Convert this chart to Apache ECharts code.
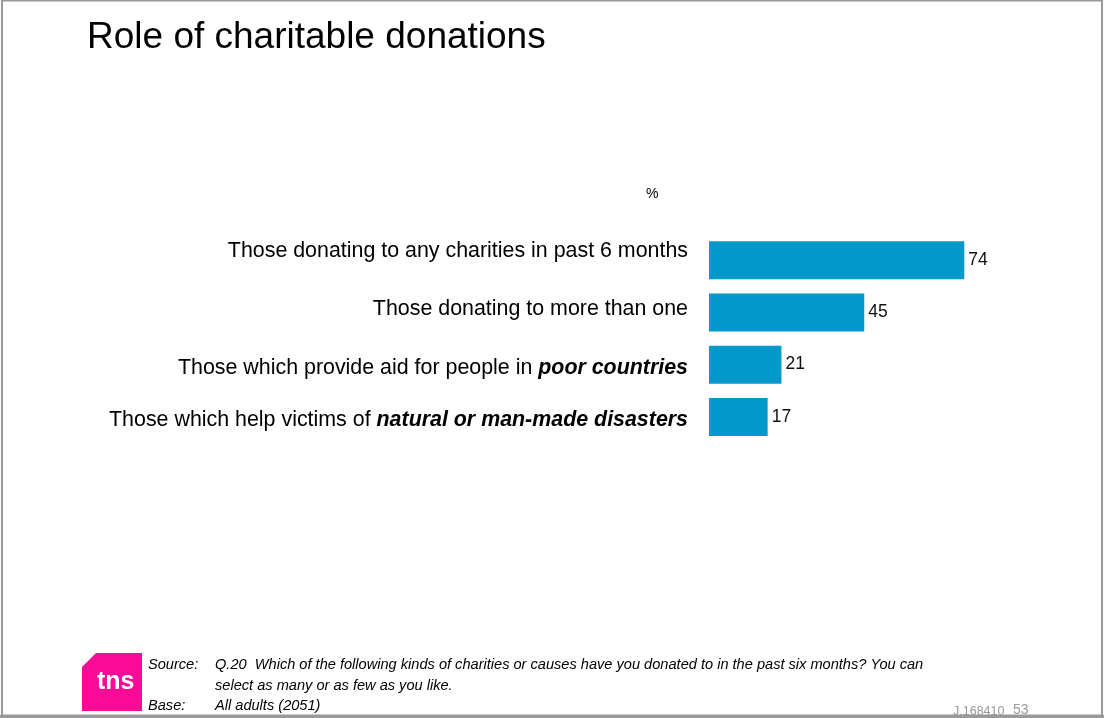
<!DOCTYPE html>
<html>
<head>
<meta charset="utf-8">
<title>Role of charitable donations</title>
<script src="https://cdn.jsdelivr.net/npm/echarts@6/dist/echarts.min.js"></script>
<style>
  html, body { margin: 0; padding: 0; background: #fff; }
  #chart { width: 1104px; height: 718px; }
</style>
</head>
<body>
<div id="chart"></div>
<script>
// Survey categories: plain lead-in text and the emphasised (bold italic) tail
const categoryText = [
  'Those donating to any charities in past 6 months',
  'Those donating to more than one',
  'Those which provide aid for people in ',
  'Those which help victims of '
];
const categoryEmphasis = ['', '', 'poor countries', 'natural or man-made disasters'];
// Share of adults, %
const shareValues = [74, 45, 21, 17];

const FONT = '"Liberation Sans", Arial, Helvetica, sans-serif';
const BAR = '#0599cb';
// vertical nudge (px, positive = down) for each category label
const labelShift = [-9, -3.5, 3.5, 3.5];

const rich = {
  n: { fontFamily: FONT, fontSize: 21.4, color: '#000', lineHeight: 24 },
  b: { fontFamily: FONT, fontSize: 21.4, color: '#000', fontWeight: 'bold', fontStyle: 'italic', lineHeight: 24 }
};
labelShift.forEach((s, i) => {
  rich['gap' + i] = { fontSize: 1, lineHeight: Math.abs(s) * 2 };
});

const chart = echarts.init(document.getElementById('chart'), null, { renderer: 'canvas' });

const option = {
  backgroundColor: '#ffffff',
  animation: false,
  grid: { left: 709, top: 234, height: 209, right: 50, containLabel: false },
  xAxis: {
    type: 'value', min: 0, max: 100,
    show: false
  },
  yAxis: {
    type: 'category',
    inverse: true,
    data: categoryText.map((t, i) => i),
    axisLine: { show: false },
    axisTick: { show: false },
    splitLine: { show: false },
    axisLabel: {
      margin: 21,
      align: 'right',
      formatter: (v, i) => {
        let s = '{n|' + categoryText[i] + '}';
        if (categoryEmphasis[i]) s += '{b|' + categoryEmphasis[i] + '}';
        const gap = '{gap' + i + '| }';
        if (labelShift[i] > 0) s = gap + '\n' + s;
        else if (labelShift[i] < 0) s = s + '\n' + gap;
        return s;
      },
      rich: rich
    }
  },
  series: [{
    type: 'bar',
    data: shareValues,
    barWidth: 38,
    itemStyle: { color: BAR },
    label: {
      show: true,
      position: 'right',
      distance: 4,
      fontFamily: FONT,
      fontSize: 17.5,
      color: '#111'
    }
  }],
  graphic: [
    // page frame
    { type: 'rect', shape: { x: 2, y: 0.5, width: 1100, height: 715 }, style: { fill: 'none', stroke: '#999', lineWidth: 2 } },
    { type: 'rect', shape: { x: 0, y: 715, width: 1104, height: 3 }, style: { fill: '#999' } },
    // title
    { type: 'text', left: 87, top: 19, style: { text: 'Role of charitable donations', font: '37px ' + FONT, fill: '#000' } },
    // unit marker
    { type: 'text', left: 646, top: 187, style: { text: '%', font: '14px ' + FONT, fill: '#000' } },
    // tns logo
    { type: 'polygon', shape: { points: [[96, 653], [142, 653], [142, 711], [82, 711], [82, 667]] }, style: { fill: '#fa0a96' } },
    { type: 'text', left: 97, top: 670, style: { text: 'tns', font: 'bold 25px ' + FONT, fill: '#fff' } },
    // source notes
    { type: 'text', left: 148, top: 657, style: { text: 'Source:', font: 'italic 14.6px ' + FONT, fill: '#000' } },
    { type: 'text', left: 215, top: 657, style: { text: 'Q.20  Which of the following kinds of charities or causes have you donated to in the past six months? You can', font: 'italic 14.6px ' + FONT, fill: '#000' } },
    { type: 'text', left: 215, top: 678, style: { text: 'select as many or as few as you like.', font: 'italic 14.6px ' + FONT, fill: '#000' } },
    { type: 'text', left: 148, top: 698, style: { text: 'Base:', font: 'italic 14.6px ' + FONT, fill: '#000' } },
    { type: 'text', left: 215, top: 698, style: { text: 'All adults (2051)', font: 'italic 14.6px ' + FONT, fill: '#000' } },
    // job reference and page number
    { type: 'text', left: 953, top: 705, style: { text: 'J.168410', font: '12.5px ' + FONT, fill: '#999' } },
    { type: 'text', left: 1013, top: 703, style: { text: '53', font: '14px ' + FONT, fill: '#999' } }
  ]
};

chart.setOption(option);
</script>
</body>
</html>
